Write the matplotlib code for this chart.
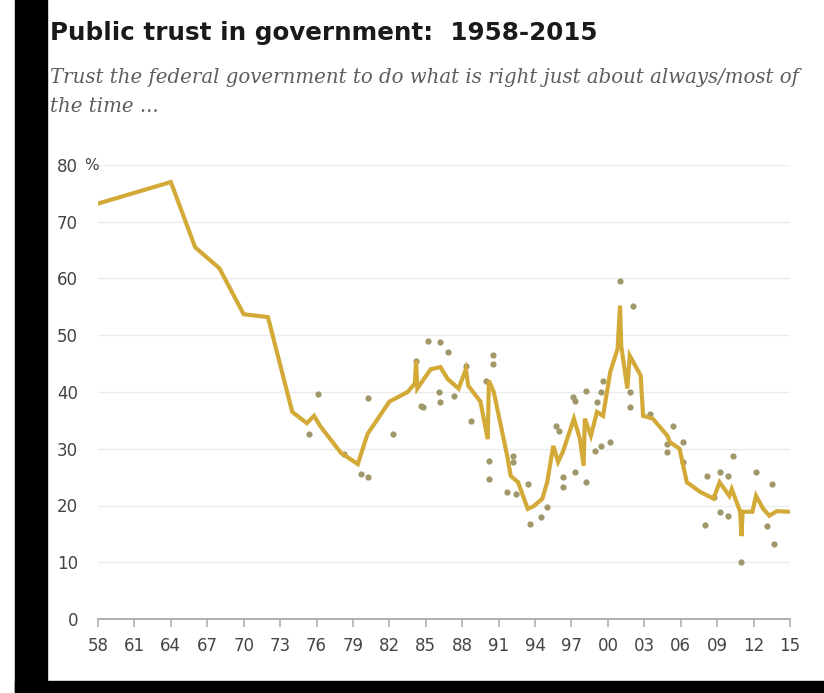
import matplotlib
matplotlib.use("Agg")
import matplotlib.pyplot as plt
from matplotlib.patches import Rectangle

# moving-average line (year, % trusting)
line_years = [1958.0, 1964.0, 1966.0, 1968.0, 1970.0, 1972.0, 1974.0, 1975.2, 1975.8, 1976.3,
              1978.0, 1979.4, 1980.2, 1982.0, 1983.5, 1984.1, 1984.2, 1984.3, 1985.4, 1986.2,
              1986.8, 1987.7, 1988.3, 1988.5, 1989.5, 1990.1, 1990.2, 1990.6, 1991.7, 1992.0,
              1992.6, 1993.4, 1993.9, 1994.6, 1995.0, 1995.5, 1995.9, 1996.3, 1997.2, 1997.7,
              1998.0, 1998.1, 1998.6, 1999.1, 1999.6, 2000.2, 2000.8, 2001.0, 2001.1, 2001.6,
              2001.8, 2002.7, 2002.9, 2003.7, 2004.9, 2005.1, 2005.9, 2006.5, 2007.6, 2008.7,
              2009.2, 2010.0, 2010.2, 2010.9, 2011.0, 2011.1, 2011.9, 2012.2, 2012.8, 2013.3,
              2013.9, 2015.0]
line_vals = [73.2, 77.0, 65.5, 61.8, 53.7, 53.2, 36.5, 34.5, 35.8, 34.0,
             29.3, 27.3, 32.6, 38.3, 40.0, 41.5, 45.5, 40.6, 44.0, 44.4,
             42.3, 40.6, 44.0, 41.1, 38.3, 31.7, 42.0, 40.0, 28.8, 25.2,
             24.1, 19.4, 19.9, 21.2, 24.1, 30.5, 27.7, 29.5, 35.3, 31.7,
             27.0, 35.3, 32.3, 36.5, 35.8, 43.6, 47.6, 55.2, 48.1, 40.6,
             46.4, 42.9, 35.8, 35.3, 32.3, 31.2, 30.0, 24.1, 22.4, 21.2,
             24.1, 21.7, 22.9, 18.9, 14.6, 18.9, 18.9, 21.7, 19.4, 18.2,
             19.0, 18.9]

# individual polls
poll_years = [1975.4, 1976.1, 1978.3, 1979.7, 1980.2, 1980.2, 1982.3, 1984.2, 1984.6, 1984.8,
              1985.2, 1986.1, 1986.2, 1986.2, 1986.8, 1987.3, 1988.3, 1988.7, 1990.0, 1990.2,
              1990.2, 1990.5, 1990.5, 1991.7, 1992.2, 1992.2, 1992.4, 1993.4, 1993.6, 1994.5,
              1995.0, 1995.7, 1996.0, 1996.3, 1996.3, 1997.1, 1997.3, 1997.3, 1998.2, 1998.2,
              1998.9, 1999.1, 1999.4, 1999.4, 1999.6, 2000.2, 2001.0, 2001.8, 2001.8, 2002.1,
              2003.5, 2004.9, 2004.9, 2005.4, 2006.2, 2006.2, 2008.0, 2008.2, 2008.7, 2009.2,
              2009.2, 2009.9, 2009.9, 2010.3, 2011.0, 2012.2, 2013.1, 2013.5, 2013.7]
poll_vals = [32.6, 39.7, 29.0, 25.6, 25.0, 39.0, 32.6, 45.5, 37.6, 37.4,
             49.0, 40.0, 48.8, 38.3, 47.1, 39.3, 44.5, 34.9, 42.0, 27.9,
             24.7, 46.6, 45.0, 22.4, 28.8, 27.7, 22.0, 23.8, 16.8, 18.0,
             19.8, 34.0, 33.2, 25.0, 23.3, 39.2, 38.4, 25.9, 40.2, 24.1,
             29.6, 38.3, 40.0, 30.5, 42.0, 31.2, 59.6, 37.4, 40.0, 55.2,
             36.2, 30.9, 29.5, 34.0, 31.2, 27.7, 16.6, 25.2, 21.5, 18.9,
             25.9, 18.2, 25.2, 28.8, 10.0, 25.9, 16.4, 23.8, 13.2]

x_ticks = list(range(1958, 2016, 3))
x_labels = ["%02d" % (y % 100) for y in x_ticks]
y_ticks = [0, 10, 20, 30, 40, 50, 60, 70, 80]

W, H = 824, 693
fig = plt.figure(figsize=(W / 100, H / 100), dpi=100)
fig.patch.set_facecolor("white")

ax = fig.add_axes([98 / W, (H - 619) / H, (790 - 98) / W, (619 - 165) / H])
ax.plot(poll_years, poll_vals, "o", color="#a0976a", markersize=4.5, markeredgewidth=0, zorder=2)
ax.plot(line_years, line_vals, color="#d3aa38", linewidth=3, solid_joinstyle="miter", zorder=3)

ax.set_xlim(1958, 2015)
ax.set_ylim(0, 80)
ax.set_xticks(x_ticks)
ax.set_xticklabels(x_labels)
ax.set_yticks(y_ticks)
ax.set_yticklabels([str(v) for v in y_ticks])
for s in ["top", "right", "left"]:
    ax.spines[s].set_visible(False)
ax.spines["bottom"].set_color("#a8a8a8")
ax.spines["bottom"].set_linewidth(1.3)
ax.tick_params(axis="x", length=6, width=1.1, color="#a8a8a8", pad=7, labelsize=12, labelcolor="#444444")
ax.tick_params(axis="y", length=0, pad=14.4, labelsize=12, labelcolor="#444444")
ax.grid(axis="y", color="#ececec", linewidth=1.0)
ax.set_axisbelow(True)
ax.set_clip_on(False)

fig.text(84 / W, 1 - 165 / H, "%", ha="left", va="center", fontsize=11, color="#444444")

fig.text(50 / W, 1 - 40 / H, "Public trust in government:  1958-2015", ha="left", va="baseline",
         fontsize=17.7, fontweight="bold", color="#1a1a1a")
fig.text(50 / W, 1 - 83 / H,
         "Trust the federal government to do what is right just about always/most of",
         ha="left", va="baseline", fontsize=14.2, style="italic", family="DejaVu Serif", color="#5e5e5e")
fig.text(50 / W, 1 - 112 / H, "the time ...", ha="left", va="baseline", fontsize=14.2,
         style="italic", family="DejaVu Serif", color="#5e5e5e")

# black frame bits of the screenshot
fig.patches.append(Rectangle((15 / W, 0), 32 / W, 1, transform=fig.transFigure, color="black", zorder=10))
fig.patches.append(Rectangle((15 / W, 0), 1, 12 / H, transform=fig.transFigure, color="black", zorder=10))

fig.savefig("out.png", dpi=100)
